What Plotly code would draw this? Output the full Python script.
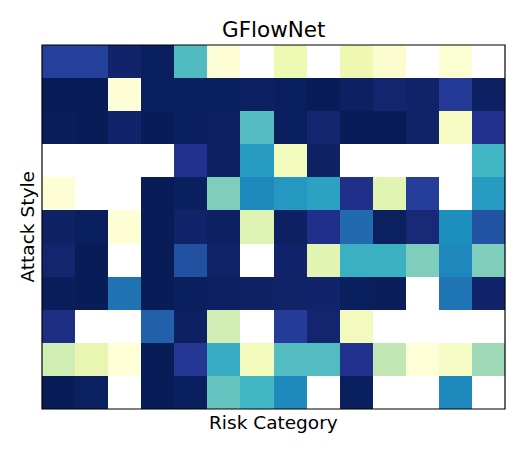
import plotly.graph_objects as go

# Heatmap values (rows = attack styles top->bottom, cols = risk categories); None = empty cell
risk_categories = list(range(14))
attack_styles = list(range(11))

row0 = [0.84, 0.84, 0.96, 0.99, 0.47, 0.01, None, 0.115, None, 0.12, 0.03, None, 0.02, None]
row1 = [1.0, 1.0, 0.01, 0.99, 0.99, 0.99, 0.98, 0.99, 1.0, 0.98, 0.955, 0.965, 0.86, 0.98]
row2 = [0.995, 1.0, 0.96, 1.0, 0.99, 0.98, 0.46, 0.99, 0.95, 1.0, 1.0, 0.97, 0.065, 0.89]
row3 = [None, None, None, None, 0.89, 0.98, 0.59, 0.09, 0.975, None, None, None, None, 0.5]
row4 = [0.01, None, None, 1.0, 0.99, 0.375, 0.645, 0.6, 0.57, 0.895, 0.16, 0.845, None, 0.59]
row5 = [0.975, 0.99, 0.015, 1.0, 0.96, 0.98, 0.17, 0.98, 0.895, 0.72, 0.985, 0.935, 0.63, 0.78]
row6 = [0.955, 1.0, None, 1.0, 0.79, 0.97, None, 0.96, 0.16, 0.52, 0.52, 0.375, 0.65, 0.375]
row7 = [0.995, 1.0, 0.70, 1.0, 0.99, 0.98, 0.975, 0.97, 0.96, 0.99, 0.995, None, 0.69, 0.96]
row8 = [0.91, None, None, 0.745, 0.98, 0.22, None, 0.85, 0.955, 0.085, None, None, None, None]
row9 = [0.22, 0.14, 0.005, 1.0, 0.87, 0.53, 0.09, 0.465, 0.465, 0.89, 0.26, 0.005, 0.06, 0.32]
row10 = [1.0, 0.985, None, 1.0, 0.99, 0.43, 0.5, 0.645, None, 0.99, None, None, 0.645, None]

z = [row0, row1, row2, row3, row4, row5, row6, row7, row8, row9, row10]

ylgnbu = [
    [0.0, "#ffffd9"], [0.125, "#edf8b1"], [0.25, "#c7e9b4"], [0.375, "#7fcdbb"],
    [0.5, "#41b6c4"], [0.625, "#1d91c0"], [0.75, "#225ea8"], [0.875, "#253494"],
    [1.0, "#081d58"],
]

fig = go.Figure(go.Heatmap(
    z=z, x=risk_categories, y=attack_styles,
    colorscale=ylgnbu, zmin=0, zmax=1, showscale=False,
    hoverongaps=False,
))

FONT = "DejaVu Sans"
fig.update_layout(
    width=531, height=453,
    margin=dict(l=42, r=26, t=45, b=43.5, pad=0),
    paper_bgcolor="white", plot_bgcolor="white",
    font=dict(family=FONT, color="black"),
    showlegend=False,
)
fig.update_xaxes(range=[-0.5, 13.5], showticklabels=False, ticks="", showgrid=False,
                 zeroline=False, showline=False)
fig.update_yaxes(range=[10.5, -0.5], showticklabels=False, ticks="", showgrid=False,
                 zeroline=False, showline=False)

fig.add_shape(type="rect", xref="paper", yref="paper", x0=0, x1=1, y0=0, y1=1,
              line=dict(color="black", width=1.2), fillcolor="rgba(0,0,0,0)", layer="above")

fig.add_annotation(text="GFlowNet", xref="paper", yref="paper", x=0.5, y=1,
                   xanchor="center", yanchor="bottom", yshift=1, showarrow=False,
                   font=dict(family=FONT, size=21.5, color="black"))
fig.add_annotation(text="Risk Category", xref="paper", yref="paper", x=0.5, y=0,
                   xanchor="center", yanchor="top", yshift=-1, showarrow=False,
                   font=dict(family=FONT, size=18.5, color="black"))
fig.add_annotation(text="Attack Style", xref="paper", yref="paper", x=0, y=0.5,
                   xanchor="right", yanchor="middle", xshift=-3, textangle=-90, showarrow=False,
                   font=dict(family=FONT, size=18.5, color="black"))

fig.write_html("out.html", config={"displayModeBar": False},
               post_script="document.body.style.margin='0';document.body.style.overflow='hidden';")
